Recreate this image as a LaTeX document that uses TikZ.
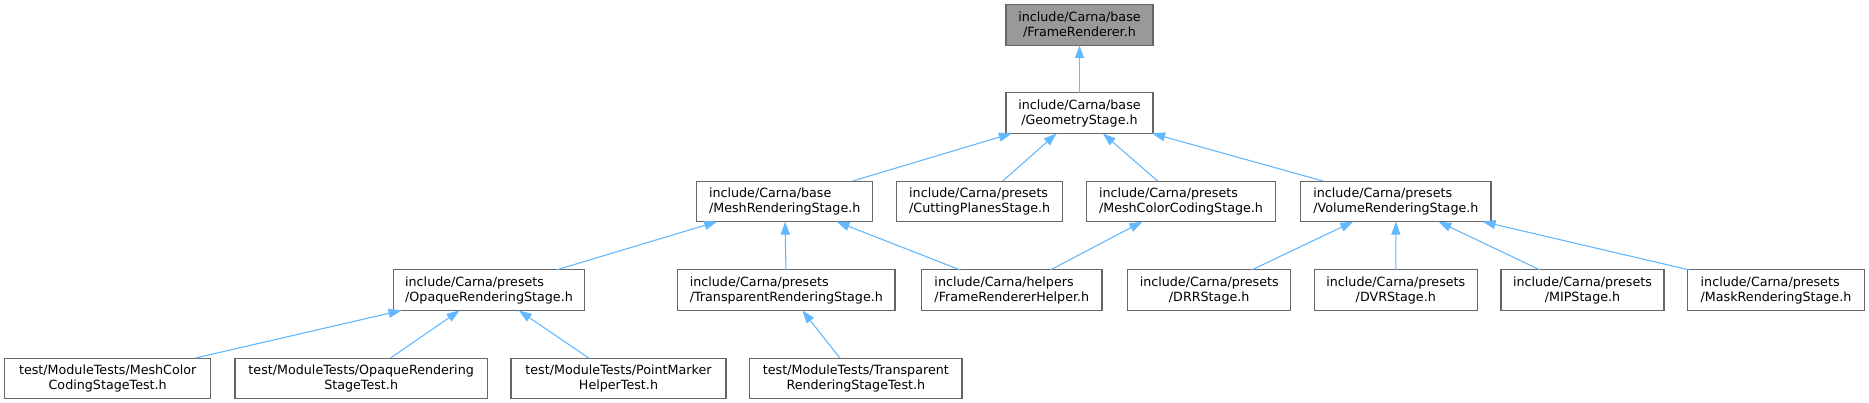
\documentclass[tikz,border=0pt]{standalone}
\usepackage{fontspec}
\setmainfont{DejaVu Sans}
\usetikzlibrary{arrows.meta,positioning}
\definecolor{edgeblue}{HTML}{63B8FF}
\definecolor{boxline}{HTML}{666666}
\definecolor{rootfill}{HTML}{999999}

\begin{document}
\begin{tikzpicture}[x=1pt,y=1pt,every node/.style={draw=boxline,line width=1.1pt,fill=white,outer sep=0pt,inner xsep=2pt,inner ysep=0pt,minimum height=40.5pt,align=center,font=\fontsize{12.7}{15}\selectfont},w/.style={minimum width=#1pt},edge/.style={draw=edgeblue,line width=1.1pt,-{Triangle[length=13pt,width=9pt]}}]
      \useasboundingbox (0,0) rectangle (1869,-403);
      \node[fill=rootfill,w=147] (frame) at (1079.5,-24.95) {include/Carna/base\\/FrameRenderer.h};
      \node[w=147,below=47.7pt of frame] (geom) {include/Carna/base\\/GeometryStage.h};
      \node[w=176,align=left,below left=47.7pt and 133.3pt of geom] (mesh) {include/Carna/base\\/MeshRenderingStage.h};
      \node[w=166,align=left,right=24pt of mesh] (cut) {include/Carna/presets\\/CuttingPlanesStage.h};
      \node[w=189.4,align=left,right=23.6pt of cut] (mcc) {include/Carna/presets\\/MeshColorCodingStage.h};
      \node[w=190.3,align=left,right=25pt of mcc] (vol) {include/Carna/presets\\/VolumeRenderingStage.h};
      \node[w=190.6,align=left,below left=48.3pt and 112.4pt of mesh] (opaque) {include/Carna/presets\\/OpaqueRenderingStage.h};
      \node[w=217.3,align=left,right=93.4pt of opaque] (transp) {include/Carna/presets\\/TransparentRenderingStage.h};
      \node[w=180.3,align=left,right=26.7pt of transp] (frh) {include/Carna/helpers\\/FrameRendererHelper.h};
      \node[w=163,right=25.7pt of frh] (drr) {include/Carna/presets\\/DRRStage.h};
      \node[w=163,right=23.6pt of drr] (dvr) {include/Carna/presets\\/DVRStage.h};
      \node[w=163,right=23.7pt of dvr] (mip) {include/Carna/presets\\/MIPStage.h};
      \node[w=176.6,align=left,right=23.7pt of mip] (mask) {include/Carna/presets\\/MaskRenderingStage.h};
      \node[w=206,below left=47.7pt and 183pt of opaque] (mcctest) {test/ModuleTests/MeshColor\\CodingStageTest.h};
      \node[w=252.3,right=24.3pt of mcctest] (optest) {test/ModuleTests/OpaqueRendering\\StageTest.h};
      \node[w=215,right=23.7pt of optest] (pmtest) {test/ModuleTests/PointMarker\\HelperTest.h};
      \node[w=212.3,right=23.7pt of pmtest] (trtest) {test/ModuleTests/Transparent\\RenderingStageTest.h};
      \draw[edge] (geom)--(frame);
      \draw[edge] (mesh)--(geom);
      \draw[edge] (cut)--(geom);
      \draw[edge] (mcc)--(geom);
      \draw[edge] (vol)--(geom);
      \draw[edge] (opaque)--(mesh);
      \draw[edge] (transp)--(mesh);
      \draw[edge] (frh)--(mesh);
      \draw[edge] (frh)--(mcc);
      \draw[edge] (drr)--(vol);
      \draw[edge] (dvr)--(vol);
      \draw[edge] (mip)--(vol);
      \draw[edge] (mask)--(vol);
      \draw[edge] (mcctest)--(opaque);
      \draw[edge] (optest)--(opaque);
      \draw[edge] (pmtest)--(opaque);
      \draw[edge] (trtest)--(transp);
    \end{tikzpicture}
\end{document}
